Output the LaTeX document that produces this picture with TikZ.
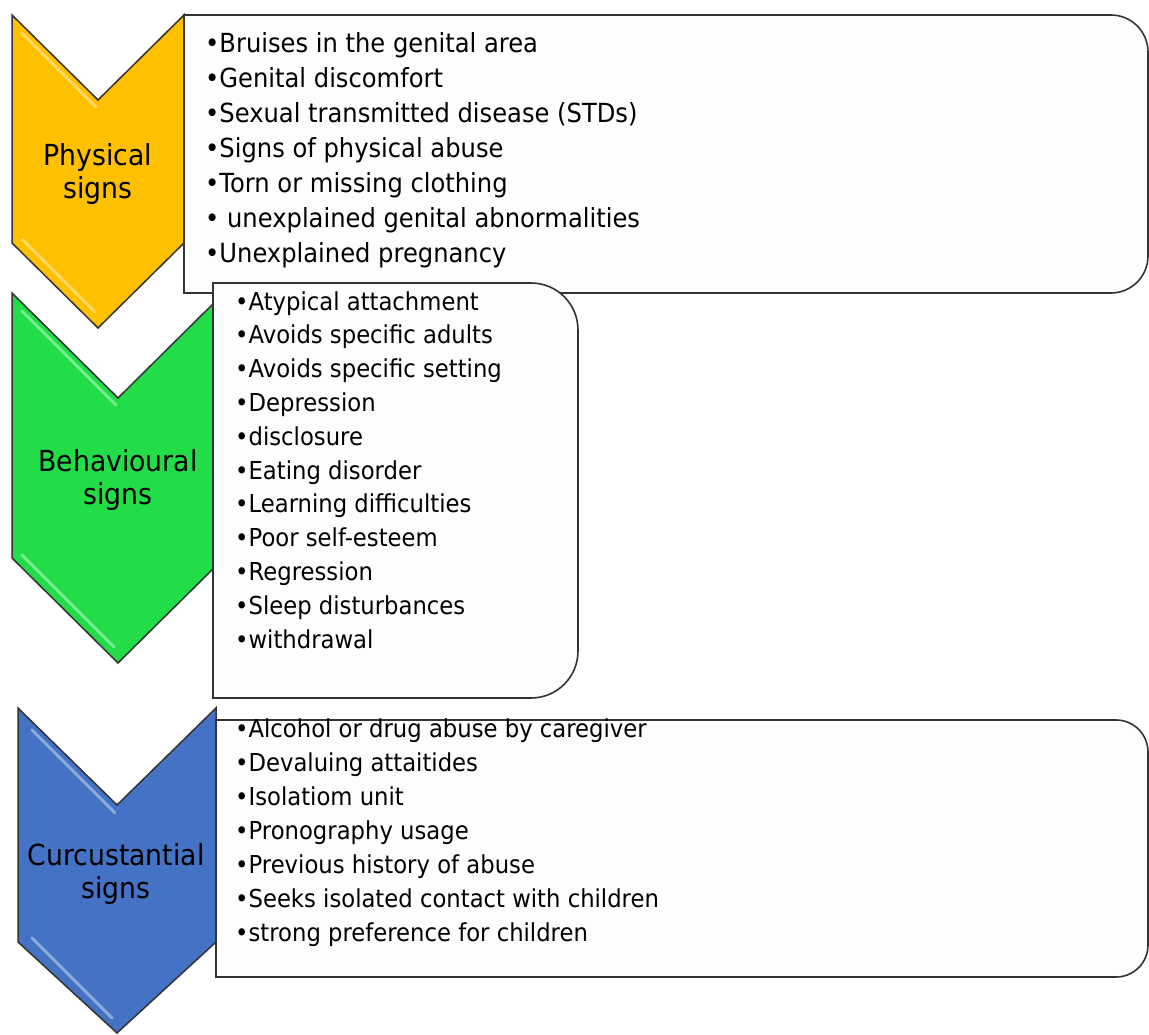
\documentclass[tikz,border=0pt]{standalone}
\usepackage{fontspec}
\setmainfont{DejaVu Sans}[FakeStretch=0.92]
\definecolor{cyellow}{HTML}{FFC000}
\definecolor{cgreen}{RGB}{34,221,72}
\definecolor{cblue}{HTML}{4472C4}
\definecolor{edge}{HTML}{333333}
\definecolor{boxfill}{HTML}{FDFDFD}
\tikzset{
  chev/.style={draw=edge, line width=1.5pt, line join=miter},
  bevel/.style={line width=3pt, line cap=round, opacity=0.6},
  listbox/.style={draw=edge, fill=boxfill, line width=1.6pt},
  listtext/.style={anchor=base west, inner sep=0pt, font=\fontsize{24.7}{30}\selectfont},
  biglisttext/.style={anchor=base west, inner sep=0pt, font=\fontsize{26.3}{32}\selectfont},
  labeltext/.style={anchor=base, inner sep=0pt, font=\fontsize{29}{28}\selectfont},
}
\begin{document}
\begin{tikzpicture}[x=1pt, y=-1pt]
\useasboundingbox (0,0) rectangle (1149,1035);

% ---------- Physical signs ----------
\fill[fill=cyellow] (12,15) -- (98,100) -- (184,15) -- (184,243) -- (98,328) -- (12,243) -- cycle;
\draw[bevel, draw=cyellow!35!white] (22,33) -- (96,107);
\draw[bevel, draw=cyellow!35!white] (22,239) -- (95,312);
\draw[chev] (12,15) -- (98,100) -- (184,15) -- (184,243) -- (98,328) -- (12,243) -- cycle;
\node[labeltext] (phys1) at (98,166) {Physical};
\node[labeltext] (phys2) at (98,199) {signs};

\draw[listbox] (184,15) -- (1111,15) .. controls (1131.4,15) and (1148,31.6) .. (1148,52)
  -- (1148,256) .. controls (1148,276.4) and (1131.4,293) .. (1111,293) -- (184,293) -- cycle;
\foreach \t [count=\i] in {•Bruises in the genital area, •Genital discomfort,
  •Sexual transmitted disease (STDs), •Signs of physical abuse, •Torn or missing clothing,
  • unexplained genital abnormalities, •Unexplained pregnancy}
  \node[biglisttext] (pa\i) at (205, {53+35*(\i-1)}) {\t};

% ---------- Behavioural signs ----------
\fill[fill=cgreen] (12,293) -- (118,398) -- (224,293) -- (224,558) -- (118,663) -- (12,558) -- cycle;
\draw[bevel, draw=cgreen!35!white] (22,311) -- (116,405);
\draw[bevel, draw=cgreen!35!white] (22,555) -- (114,647);
\draw[chev] (12,293) -- (118,398) -- (224,293) -- (224,558) -- (118,663) -- (12,558) -- cycle;
\node[labeltext] (beh1) at (118,471) {Behavioural};
\node[labeltext] (beh2) at (118,504) {signs};

\draw[listbox] (213,283) -- (531,283) .. controls (557,283) and (578,304) .. (578,330)
  -- (578,651) .. controls (578,677) and (557,698) .. (531,698) -- (213,698) -- cycle;
\foreach \t [count=\i] in {•Atypical attachment, •Avoids specific adults, •Avoids specific setting,
  •Depression, •disclosure, •Eating disorder, •Learning difficulties, •Poor self-esteem,
  •Regression, •Sleep disturbances, •withdrawal}
  \node[listtext] (pb\i) at (235, {310+33.8*(\i-1)}) {\t};

% ---------- Curcustantial signs ----------
\fill[fill=cblue] (18,708) -- (117,805) -- (216,708) -- (216,942) -- (117,1033) -- (18,942) -- cycle;
\draw[bevel, draw=cblue!35!white] (32,730) -- (115,813);
\draw[bevel, draw=cblue!35!white] (32,938) -- (112,1018);
\draw[chev] (18,708) -- (117,805) -- (216,708) -- (216,942) -- (117,1033) -- (18,942) -- cycle;
\node[labeltext] (cir1) at (116,865) {Curcustantial};
\node[labeltext] (cir2) at (116,898) {signs};

\draw[listbox] (216,720) -- (1116,720) .. controls (1133.7,720) and (1148,734.3) .. (1148,752)
  -- (1148,945) .. controls (1148,962.7) and (1133.7,977) .. (1116,977) -- (216,977) -- cycle;
\foreach \t [count=\i] in {•Alcohol or drug abuse by caregiver, •Devaluing attaitides,
  •Isolatiom unit, •Pronography usage, •Previous history of abuse,
  •Seeks isolated contact with children, •strong preference for children}
  \node[listtext] (pc\i) at (235, {737+34*(\i-1)}) {\t};
\end{tikzpicture}
\end{document}
